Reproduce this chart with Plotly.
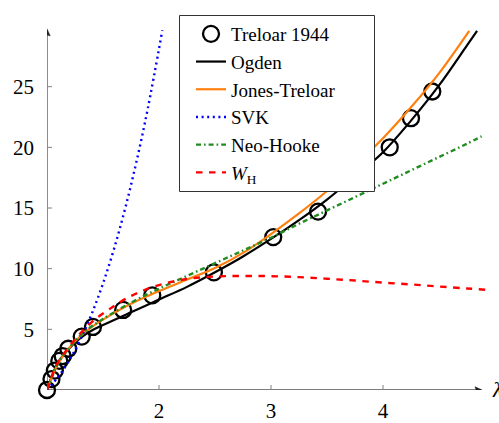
import plotly.graph_objects as go

# ---------------- data ----------------
treloar_x = [1.00, 1.04, 1.07, 1.11, 1.14, 1.19, 1.31, 1.41, 1.68, 1.94, 2.49, 3.02, 3.42, 4.06, 4.25, 4.44]
treloar_t = [0.0, 0.9, 1.6, 2.4, 2.8, 3.4, 4.4, 5.2, 6.6, 7.8, 9.7, 12.6, 14.7, 20.0, 22.4, 24.6]

ogden_x = [1.0, 1.05, 1.1, 1.2, 1.3, 1.4, 1.5, 1.75, 2.0, 2.25, 2.5, 2.75, 3.0, 3.25, 3.5, 3.75, 4.0, 4.25, 4.5, 4.75, 4.84]
ogden_t = [0.0, 1.3, 2.3, 3.45, 4.3, 4.9, 5.35, 6.4, 7.45, 8.5, 9.7, 11.0, 12.45, 14.0, 15.7, 17.6, 19.6, 22.2, 25.1, 28.4, 29.6]

jt_x = [1.0, 1.05, 1.1, 1.2, 1.3, 1.4, 1.5, 1.75, 2.0, 2.25, 2.5, 2.75, 3.0, 3.25, 3.5, 3.75, 4.0, 4.25, 4.5, 4.77]
jt_t = [0.0, 1.2, 2.2, 3.5, 4.45, 5.2, 5.8, 7.1, 8.15, 9.1, 10.05, 11.3, 12.85, 14.55, 16.4, 18.5, 20.75, 23.3, 26.1, 29.6]

svk_x = [1.0, 1.1, 1.2, 1.3, 1.4, 1.5, 1.6, 1.7, 1.8, 1.9, 2.03]
svk_t = [0.0, 1.08, 2.47, 4.2, 6.29, 8.78, 11.68, 15.04, 18.87, 23.2, 29.65]

nh_x = [1.0, 1.05, 1.1, 1.2, 1.3, 1.4, 1.5, 1.75, 2.0, 2.25, 2.5, 2.75, 3.0, 3.25, 3.5, 3.75, 4.0, 4.25, 4.5, 4.75, 4.88]
nh_t = [0.0, 1.2, 2.2, 3.5, 4.5, 5.25, 5.85, 7.2, 8.35, 9.4, 10.45, 11.5, 12.55, 13.7, 14.8, 15.9, 17.0, 18.1, 19.2, 20.3, 20.9]

wh_x = [1.0, 1.05, 1.1, 1.2, 1.3, 1.4, 1.5, 1.75, 2.0, 2.25, 2.5, 2.75, 3.0, 3.25, 3.5, 3.75, 4.0, 4.25, 4.5, 4.75, 4.95]
wh_t = [0.0, 1.3, 2.3, 3.6, 4.7, 5.6, 6.3, 7.75, 8.65, 9.15, 9.35, 9.4, 9.38, 9.3, 9.17, 9.02, 8.85, 8.7, 8.53, 8.37, 8.24]

x_ticks = [2, 3, 4]
y_ticks = [5, 10, 15, 20, 25]

# axis extents (axis arrows)
X_MIN, X_END = 1.0, 4.875
Y_MIN, Y_END = 0.0, 29.68

# ---------------- figure ----------------
FONT = "'Liberation Serif', 'DejaVu Serif', serif"
FS = 21
LEG_FS = 19
AX_COL = "#505050"

fig = go.Figure()

fig.add_trace(go.Scatter(
    x=treloar_x, y=treloar_t, mode="markers", name="Treloar 1944",
    marker=dict(symbol="circle-open", size=16, color="black", line=dict(width=2.3, color="black")),
    cliponaxis=False))
fig.add_trace(go.Scatter(
    x=ogden_x, y=ogden_t, mode="lines", name="Ogden",
    line=dict(color="black", width=2.2, shape="spline")))
fig.add_trace(go.Scatter(
    x=jt_x, y=jt_t, mode="lines", name="Jones-Treloar",
    line=dict(color="#ff7f0e", width=2.2, shape="spline")))
fig.add_trace(go.Scatter(
    x=svk_x, y=svk_t, mode="lines", name="SVK",
    line=dict(color="#0000ff", width=2.4, shape="spline", dash="2px,3.6px")))
fig.add_trace(go.Scatter(
    x=nh_x, y=nh_t, mode="lines", name="Neo-Hooke",
    line=dict(color="#228b22", width=2.4, shape="spline", dash="5px,3px,1.6px,3px")))
fig.add_trace(go.Scatter(
    x=wh_x, y=wh_t, mode="lines", name="<i>W</i><sub>H</sub>",
    line=dict(color="#ff0000", width=2.4, shape="spline", dash="6.5px,6.5px")))

# plot geometry helpers (pixels -> paper) for the legend frame
L, R, T, B, W, H = 47, 4, 26, 33, 499, 423
PW, PH = W - L - R, H - T - B
def px_x(p):
    return (p - L) / PW
def px_y(p):
    return (H - B - p) / PH

shapes = []
# axis lines
shapes.append(dict(type="line", xref="x", yref="y", x0=X_MIN, x1=X_END, y0=Y_MIN, y1=Y_MIN,
                   line=dict(color=AX_COL, width=1.3), layer="below"))
shapes.append(dict(type="line", xref="x", yref="y", x0=X_MIN, x1=X_MIN, y0=Y_MIN, y1=Y_END,
                   line=dict(color=AX_COL, width=1.3), layer="below"))
# arrow heads (pixel-sized paths anchored at the axis ends)
shapes.append(dict(type="path", xref="x", yref="y", xsizemode="pixel", ysizemode="pixel",
                   xanchor=X_END, yanchor=Y_MIN,
                   path="M 1 0 L -6 3.2 Q -4 0 -6 -3.2 Z",
                   fillcolor="#202020", line=dict(color="#202020", width=0.6)))
shapes.append(dict(type="path", xref="x", yref="y", xsizemode="pixel", ysizemode="pixel",
                   xanchor=X_MIN, yanchor=Y_END,
                   path="M 0 1 L 3.2 -6 Q 0 -4 -3.2 -6 Z",
                   fillcolor="#202020", line=dict(color="#202020", width=0.6)))
# tick marks crossing the axes
for v in x_ticks:
    shapes.append(dict(type="line", xref="x", yref="y", x0=v, x1=v,
                       ysizemode="pixel", yanchor=0, y0=-5, y1=5,
                       line=dict(color="#808080", width=1)))
for v in y_ticks:
    shapes.append(dict(type="line", xref="x", yref="y", y0=v, y1=v,
                       xsizemode="pixel", xanchor=1, x0=-5, x1=5,
                       line=dict(color="#808080", width=1)))
# legend frame
shapes.append(dict(type="rect", xref="paper", yref="paper",
                   x0=px_x(179.5), x1=px_x(374.5), y0=px_y(191.5), y1=px_y(15.5),
                   fillcolor="white", line=dict(color="#333333", width=1), layer="above"))

annotations = [
    dict(x=1, y=31.0, xref="x", yref="y", text="<i>t</i>", showarrow=False,
         font=dict(family=FONT, size=FS, color="black"), xanchor="center", yanchor="middle"),
    dict(x=4.955, y=0, xref="x", yref="y", text="<i>λ</i>", showarrow=False,
         font=dict(family=FONT, size=FS, color="black"), xanchor="left", yanchor="middle"),
]

fig.update_layout(
    width=W, height=H,
    margin=dict(l=L, r=R, t=T, b=B, autoexpand=False),
    paper_bgcolor="white", plot_bgcolor="white",
    font=dict(family=FONT, size=FS, color="black"),
    showlegend=True,
    legend=dict(x=px_x(191), y=px_y(15), xanchor="left", yanchor="top",
                bgcolor="rgba(0,0,0,0)", borderwidth=0,
                font=dict(family=FONT, size=LEG_FS, color="black"),
                traceorder="normal"),
    xaxis=dict(range=[1, 5], showgrid=False, zeroline=False, showline=False,
               tickvals=x_ticks, ticks="", ticklabelstandoff=6, automargin=False,
               tickfont=dict(family=FONT, size=FS, color="black")),
    yaxis=dict(range=[0, 30], showgrid=False, zeroline=False, showline=False,
               tickvals=y_ticks, ticks="", ticklabelstandoff=12, automargin=False,
               tickfont=dict(family=FONT, size=FS, color="black")),
    shapes=shapes,
    annotations=annotations,
)

fig.write_html("out.html", config={"displayModeBar": False},
               post_script="document.body.style.margin='0px';")
